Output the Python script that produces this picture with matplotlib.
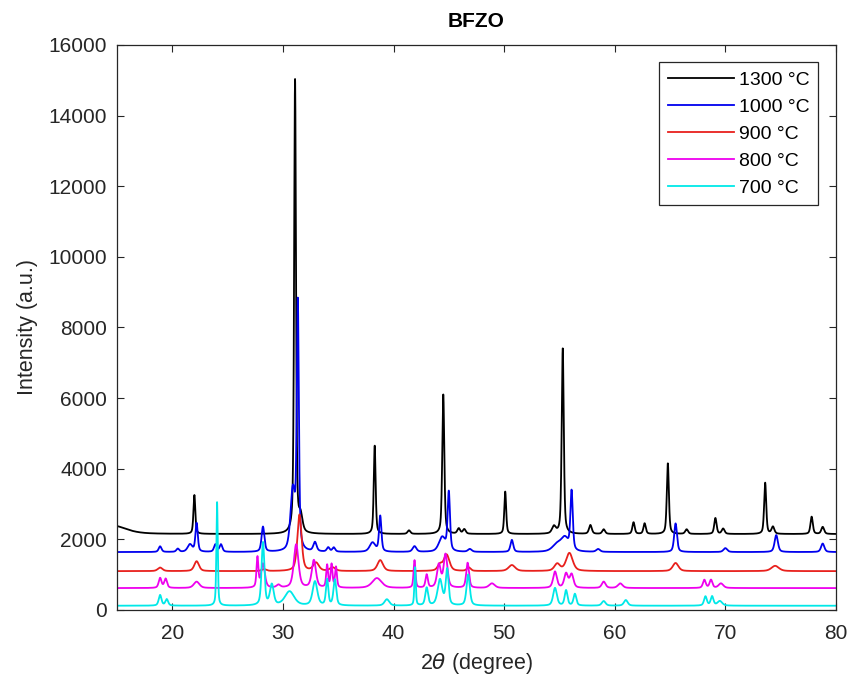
import matplotlib
matplotlib.use("Agg")
import matplotlib.pyplot as plt
import numpy as np

plt.rcParams['font.family'] = ['Liberation Sans', 'DejaVu Sans']

# XRD patterns of BFZO calcined at different temperatures.
# For each pattern: flat background, then peak positions (2theta), peak top
# intensities (counts) and peak widths (FWHM, degrees).
labels = ['1300 °C', '1000 °C', '900 °C', '800 °C', '700 °C']
colors = ['k', '#0000ee', '#e8201c', '#ee00ee', '#00e8e8']

bg_1300 = 2150
pos_1300 = [14.5, 22.0, 31.1, 31.6, 38.3, 41.4, 44.5, 45.9, 46.4, 50.1, 54.5, 55.3, 57.8,
            59.0, 61.7, 62.7, 64.8, 66.5, 69.1, 69.8, 73.6, 74.3, 77.8, 78.8]
int_1300 = [2400, 3250, 15000, 2600, 4650, 2250, 6100, 2300, 2280, 3350, 2350, 7400, 2400,
            2280, 2480, 2450, 4150, 2280, 2600, 2300, 3600, 2350, 2640, 2350]
fw_1300 = [3.0, 0.2, 0.2, 0.4, 0.2, 0.3, 0.22, 0.3, 0.3, 0.2, 0.4, 0.22, 0.3,
           0.3, 0.25, 0.25, 0.22, 0.3, 0.25, 0.3, 0.22, 0.3, 0.25, 0.3]

bg_1000 = 1640
pos_1000 = [18.9, 20.5, 21.6, 22.2, 23.9, 24.4, 28.2, 30.9, 31.35, 32.9, 34.1, 34.6, 38.1,
            38.8, 41.9, 44.4, 45.0, 46.9, 50.7, 54.8, 55.5, 56.1, 58.5, 65.5, 70.0, 74.6, 78.8]
int_1000 = [1800, 1730, 1850, 2450, 1850, 1850, 2350, 3350, 8550, 1900, 1760, 1760, 1900,
            2650, 1800, 2050, 3300, 1720, 1980, 1850, 2000, 3300, 1720, 2450, 1750, 2120, 1880]
fw_1000 = [0.3, 0.3, 0.5, 0.25, 0.3, 0.3, 0.3, 0.5, 0.22, 0.35, 0.3, 0.3, 0.6,
           0.25, 0.4, 0.7, 0.25, 0.4, 0.3, 1.0, 0.8, 0.25, 0.4, 0.3, 0.4, 0.35, 0.35]

bg_900 = 1100
pos_900 = [18.9, 22.2, 28.3, 31.5, 33.0, 34.5, 38.8, 44.2, 44.8, 46.8, 50.7, 54.8, 55.9,
           65.5, 74.5]
int_900 = [1200, 1380, 1150, 2700, 1330, 1200, 1410, 1270, 1560, 1200, 1270, 1300, 1610,
           1330, 1250]
fw_900 = [0.5, 0.5, 0.5, 0.45, 0.6, 0.6, 0.6, 0.5, 0.6, 0.4, 0.7, 0.6, 0.7, 0.6, 0.8]

bg_800 = 620
pos_800 = [18.9, 19.4, 22.2, 27.7, 28.2, 29.6, 31.2, 32.8, 34.0, 34.4, 34.8, 38.5, 41.9,
           43.0, 44.1, 44.7, 46.7, 48.9, 54.6, 55.6, 56.1, 59.0, 60.5, 68.1, 68.7, 69.6]
int_800 = [900, 880, 800, 1470, 1300, 700, 1850, 1400, 1250, 1270, 1200, 900, 1400,
           990, 1270, 1560, 1330, 750, 1080, 1020, 1000, 800, 750, 850, 850, 750]
fw_800 = [0.3, 0.3, 0.6, 0.2, 0.4, 0.4, 0.5, 0.45, 0.2, 0.2, 0.2, 1.0, 0.2,
          0.25, 0.4, 0.4, 0.3, 0.6, 0.4, 0.4, 0.4, 0.4, 0.5, 0.3, 0.3, 0.5]

bg_700 = 120
pos_700 = [18.9, 19.5, 24.05, 28.2, 29.0, 30.6, 32.9, 34.0, 34.7, 39.4, 41.95, 43.0, 44.2,
           44.85, 46.75, 54.6, 55.6, 56.4, 59.0, 61.0, 68.2, 68.8, 69.5]
int_700 = [420, 300, 3050, 1900, 700, 520, 800, 850, 850, 300, 1200, 620, 850,
           1130, 1000, 620, 550, 450, 250, 280, 380, 380, 250]
fw_700 = [0.3, 0.3, 0.15, 0.3, 0.4, 1.0, 0.5, 0.25, 0.3, 0.5, 0.15, 0.3, 0.5,
          0.3, 0.35, 0.4, 0.3, 0.3, 0.4, 0.4, 0.3, 0.3, 0.5]

patterns = [
    (bg_1300, pos_1300, int_1300, fw_1300),
    (bg_1000, pos_1000, int_1000, fw_1000),
    (bg_900, pos_900, int_900, fw_900),
    (bg_800, pos_800, int_800, fw_800),
    (bg_700, pos_700, int_700, fw_700),
]

two_theta = np.arange(15.0, 80.0001, 0.01)


def pseudo_voigt(x, x0, fwhm, eta=0.5):
    d = (x - x0) / fwhm
    lor = 1.0 / (1.0 + 4.0 * d ** 2)
    gau = np.exp(-4.0 * np.log(2) * d ** 2)
    return eta * lor + (1 - eta) * gau


fig = plt.figure(figsize=(8.5, 6.81), dpi=100)
ax = fig.add_axes([0.1376, 0.1043, 0.8459, 0.8297])

for (bg, pos, inten, fw), lab, col in zip(patterns, labels, colors):
    y = np.full_like(two_theta, float(bg))
    for p, h, w in zip(pos, inten, fw):
        y += (h - bg) * pseudo_voigt(two_theta, p, w)
    ax.plot(two_theta, y, color=col, lw=1.3, label=lab)

ax.set_xlim(15, 80)
ax.set_ylim(0, 16000)
ax.set_xticks(range(20, 81, 10))
ax.set_yticks(range(0, 16001, 2000))

axis_col = '#262626'
for s in ax.spines.values():
    s.set_color(axis_col)
    s.set_linewidth(0.9)
ax.tick_params(direction='in', length=5, width=0.8, top=True, right=True,
               colors=axis_col, labelsize=15)
ax.tick_params(axis='x', pad=10)
ax.tick_params(axis='y', pad=7)

ax.set_xlabel(r'2$\theta$ (degree)', fontsize=15.5, color=axis_col, labelpad=6)
ax.set_ylabel('Intensity (a.u.)', fontsize=15.5, color=axis_col, labelpad=8)
ax.set_title('BFZO', fontsize=15, fontweight='bold', pad=13)

leg = ax.legend(loc='upper right', fontsize=14, frameon=True, fancybox=False,
                edgecolor=axis_col, framealpha=1, handlelength=3.4,
                handletextpad=0.25, labelspacing=0.48, borderpad=0.45,
                borderaxespad=0.9)
leg.get_frame().set_linewidth(0.9)

fig.savefig('out.png', dpi=100, facecolor='white')
